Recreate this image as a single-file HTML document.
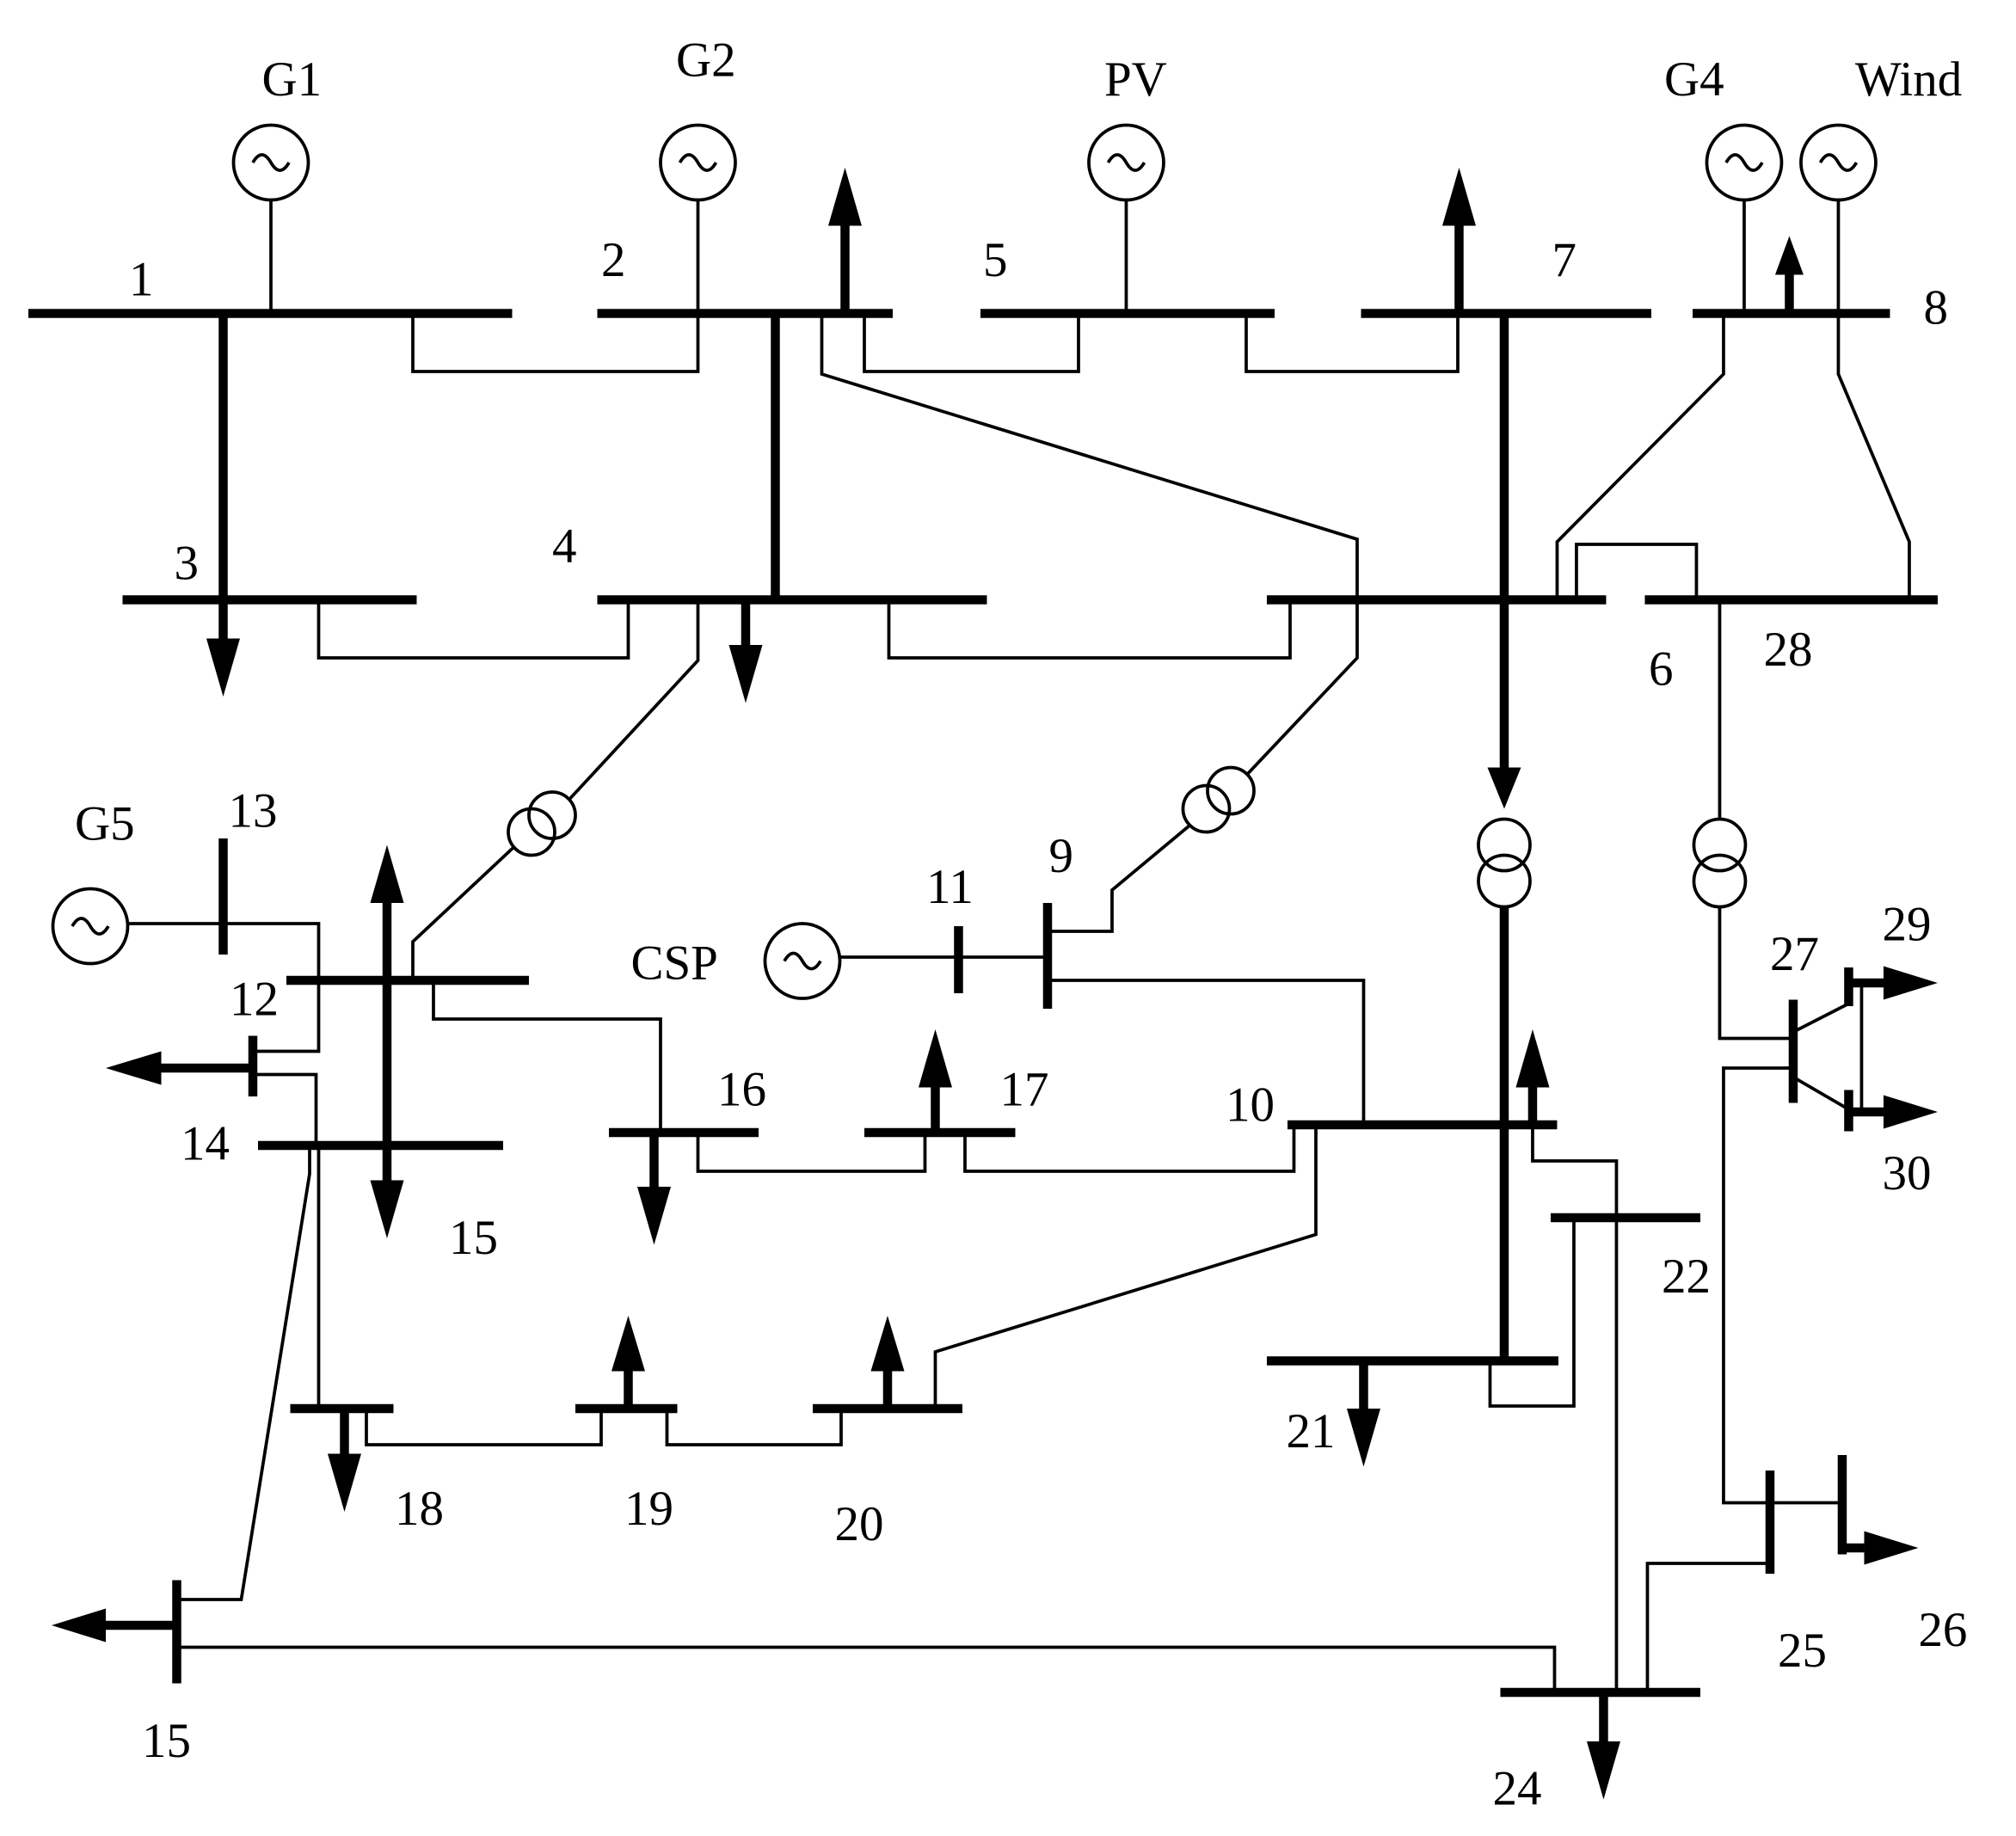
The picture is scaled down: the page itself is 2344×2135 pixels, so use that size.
<!DOCTYPE html>
<html><head><meta charset="utf-8"><style>
html,body{margin:0;padding:0;background:#fff}
svg{display:block}
text{font-family:"Liberation Serif",serif;font-size:38px;fill:#000}
</style></head><body>
<svg width="2344" height="2135" viewBox="0 0 1562.7 1423.3" xmlns="http://www.w3.org/2000/svg">
<rect width="1562.7" height="1423.3" fill="#fff"/>
<g stroke="#000" fill="none" stroke-width="2.5">
<circle cx="210" cy="126" r="29"/><circle cx="541" cy="126" r="29"/><circle cx="873" cy="126" r="29"/>
<circle cx="1352" cy="126" r="29"/><circle cx="1425" cy="126" r="29"/>
<circle cx="70" cy="718" r="29"/><circle cx="622" cy="745" r="29"/>
<path d="M196,126 q7,-12 14,0 q7,12 14,0 M527,126 q7,-12 14,0 q7,12 14,0 M859,126 q7,-12 14,0 q7,12 14,0 M1338,126 q7,-12 14,0 q7,12 14,0 M1411,126 q7,-12 14,0 q7,12 14,0 M56,718 q7,-12 14,0 q7,12 14,0 M608,745 q7,-12 14,0 q7,12 14,0"/>
<path d="M210,155V243 M541,155V243 M873,155V243 M1352,155V243 M1425,155V243 M99,716H173 M651,742H812"/>
<circle cx="1166" cy="655" r="20"/><circle cx="1166" cy="683" r="20"/>
<circle cx="1333" cy="655" r="20"/><circle cx="1333" cy="683" r="20"/>
<circle cx="412" cy="645" r="18"/><circle cx="428" cy="632" r="18"/>
<circle cx="935" cy="627" r="18"/><circle cx="954" cy="613" r="18"/>
<path d="M320,243V288H541V243"/>
<path d="M670,243V288H836V243"/>
<path d="M966,243V288H1130V243"/>
<path d="M637,243V290L1052,418V510L967,600 M922,640L862,690V722H812"/>
<path d="M1336,243V290L1207,420V465"/>
<path d="M1425,243V290L1480,420V465"/>
<path d="M1222,465V422H1315V465"/>
<path d="M1333,465V635 M1333,703V805H1390"/>
<path d="M247,465V510H487V465"/>
<path d="M689,465V510H1000V465"/>
<path d="M541,465V512L441,620 M398,657L320,730V760"/>
<path d="M173,716H247V815H196 M196,833H245V888"/>
<path d="M336,760V790H512V878"/>
<path d="M541,878V908H717V878"/>
<path d="M748,878V908H1003V872"/>
<path d="M812,760H1057V872"/>
<path d="M1188,872V900H1253V1312"/>
<path d="M1220,944V1090H1155V1055"/>
<path d="M1020,872V957L725,1048V1092"/>
<path d="M652,1092V1120H517V1092"/>
<path d="M466,1092V1120H284V1092"/>
<path d="M247,888V1092"/>
<path d="M240,888V910L187,1240H137"/>
<path d="M137,1277H1205V1312"/>
<path d="M1277,1312V1212H1372"/>
<path d="M1372,1165H1428"/>
<path d="M1390,828H1336V1165H1372"/>
<path d="M1390,800L1433,778 M1390,835L1433,860 M1443,765V860"/>
</g>
<g stroke="#000" fill="none" stroke-width="7">
<path d="M22,243H397 M95,465H323 M463,243H692 M760,243H988 M1055,243H1280 M1312,243H1465"/>
<path d="M463,465H765 M982,465H1245 M1275,465H1502"/>
<path d="M222,760H410 M200,888H390 M173,650V740 M196,803V850"/>
<path d="M472,878H588 M670,878H787 M998,872H1207 M1202,944H1318 M982,1055H1208"/>
<path d="M812,700V782 M743,718V770"/>
<path d="M630,1092H746 M446,1092H525 M225,1092H305"/>
<path d="M137,1225V1305 M1163,1312H1318 M1372,1140V1220 M1428,1128V1205"/>
<path d="M1390,775V855 M1433,750V780 M1433,845V877"/>
<path d="M173,243V495 M601,243V465 M655,243V175 M1131,243V175 M1387,243V213 M578,465V500"/>
<path d="M1166,243V595 M1166,703V1055 M300,700V915 M507,878V920 M725,878V843 M1188,872V843"/>
<path d="M1057,1055V1092 M688,1092V1063 M487,1092V1063 M267,1092V1127 M1243,1312V1350"/>
<path d="M196,828H125 M137,1260H82 M1433,762H1460 M1433,862H1460 M1428,1200H1445"/>
</g>
<g fill="#000">
<polygon points="160,495 186,495 173,540"/>
<polygon points="642,175 668,175 655,130"/>
<polygon points="1118,175 1144,175 1131,130"/>
<polygon points="1376,213 1398,213 1387,183"/>
<polygon points="565,500 591,500 578,545"/>
<polygon points="1153,595 1179,595 1166,627"/>
<polygon points="287,700 313,700 300,655"/>
<polygon points="287,915 313,915 300,960"/>
<polygon points="494,920 520,920 507,965"/>
<polygon points="712,843 738,843 725,798"/>
<polygon points="1175,843 1201,843 1188,798"/>
<polygon points="1044,1092 1070,1092 1057,1137"/>
<polygon points="675,1063 701,1063 688,1020"/>
<polygon points="474,1063 500,1063 487,1020"/>
<polygon points="254,1127 280,1127 267,1172"/>
<polygon points="1230,1350 1256,1350 1243,1395"/>
<polygon points="125,815 125,841 82,828"/>
<polygon points="82,1247 82,1273 40,1260"/>
<polygon points="1460,749 1460,775 1502,762"/>
<polygon points="1460,849 1460,875 1502,862"/>
<polygon points="1445,1187 1445,1213 1487,1200"/>
</g>
<g>
<text x="203" y="74">G1</text><text x="524" y="59">G2</text><text x="856" y="74">PV</text>
<text x="1290" y="74">G4</text><text x="1438" y="74">Wind</text>
<text x="100" y="229">1</text><text x="466" y="214">2</text><text x="762" y="214">5</text>
<text x="1203" y="214">7</text><text x="1491" y="251">8</text>
<text x="135" y="449">3</text><text x="428" y="436">4</text>
<text x="1278" y="531">6</text><text x="1367" y="516">28</text>
<text x="58" y="651">G5</text><text x="177" y="641">13</text><text x="178" y="787">12</text>
<text x="140" y="899">14</text><text x="348" y="972">15</text>
<text x="489" y="759">CSP</text><text x="718" y="700">11</text><text x="813" y="676">9</text>
<text x="556" y="857">16</text><text x="775" y="857">17</text><text x="950" y="869">10</text>
<text x="1288" y="1002">22</text><text x="997" y="1122">21</text>
<text x="306" y="1182">18</text><text x="484" y="1182">19</text><text x="647" y="1194">20</text>
<text x="110" y="1362">15</text><text x="1157" y="1399">24</text>
<text x="1378" y="1292">25</text><text x="1487" y="1276">26</text>
<text x="1372" y="752">27</text><text x="1459" y="729">29</text><text x="1459" y="922">30</text>
</g>
</svg>
</body></html>
